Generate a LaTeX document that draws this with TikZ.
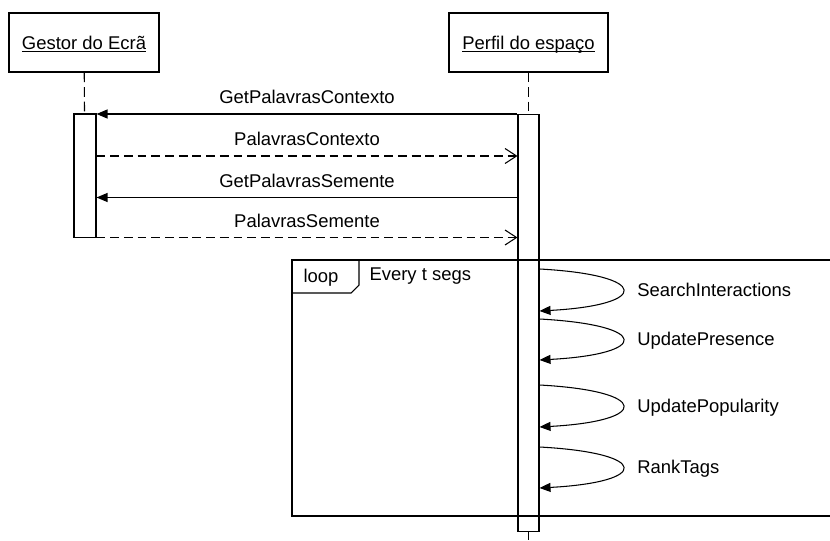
\documentclass[tikz,border=0pt]{standalone}
\usepackage{fontspec}
\setmainfont{Liberation Sans}
\usetikzlibrary{arrows.meta,calc}
\newcommand{\undertext}[1]{\setbox0\hbox{#1}\rlap{\rule[-1.6pt]{\wd0}{0.55pt}}\box0}
\tikzset{
  every node/.style={font=\fontsize{10.5}{12.6}\selectfont},
  actor/.style={draw, fill=white, minimum height=1.18cm, inner sep=0pt, text height=10pt, text depth=2.5pt},
  activation/.style={draw, fill=white, inner sep=0pt},
  lifeline/.style={dash pattern=on 5.5pt off 2.8pt},
  sync/.style={-{Triangle[length=2.2mm,width=1.8mm]}},
  reply/.style={dash pattern=on 5pt off 2.8pt, -{Straight Barb[length=2.3mm,width=3mm]}},
  msglabel/.style={midway, anchor=base, inner sep=0pt, yshift=0.2cm},
  selflabel/.style={pos=0.5, anchor=base west, inner sep=0pt, xshift=0.28cm, yshift=-0.12cm},
}
\begin{document}
\begin{tikzpicture}[x=0.02cm, y=-0.02cm, line width=0.6pt]
    \useasboundingbox (0,0) rectangle (830,540);
    \node[actor, minimum width=3cm] (gestor) at (84,42.5) {\undertext{Gestor do Ecrã}};
    \node[actor, minimum width=3.18cm] (perfil) at (528.5,42.5) {\undertext{Perfil do espaço}};
    \node[activation, minimum width=0.44cm, minimum height=2.47cm] (actG) at (85,175.75) {};
    \node[activation, minimum width=0.42cm, minimum height=8.36cm] (actP) at (528.5,323) {};
    \coordinate (lifeEnd) at (528.5,540);
    \draw[lifeline] (gestor) -- (actG);
    \draw[lifeline] (perfil) -- (actP);
    \draw[lifeline] (actP) -- (lifeEnd);
    \coordinate (m1) at (0,114);
    \coordinate (m2) at (0,156);
    \coordinate (m3) at (0,197.5);
    \coordinate (m4) at (0,237.5);
    \draw[sync] (actP.west |- m1) -- node[msglabel] (lblGetCtx) {GetPalavrasContexto} (actG.east |- m1);
    \draw[reply] (actG.east |- m2) -- node[msglabel] (lblCtx) {PalavrasContexto} (actP.west |- m2);
    \draw[sync] (actP.west |- m3) -- node[msglabel] (lblGetSem) {GetPalavrasSemente} (actG.east |- m3);
    \draw[reply] (actG.east |- m4) -- node[msglabel] (lblSem) {PalavrasSemente} (actP.west |- m4);
    \draw (830,260) -- (292,260) -- (292,516) -- (830,516);
    \draw (292,293) -- (351,293) -- (359,285) -- (359,260);
    \node[anchor=base west, inner sep=0pt] (loopTag) at (303,282) {loop};
    \node[anchor=base west, inner sep=0pt] (loopGuard) at (369,280) {Every t segs};
    \coordinate (s1) at (0,269);  \coordinate (s1e) at (0,311);
    \coordinate (s2) at (0,319);  \coordinate (s2e) at (0,360);
    \coordinate (s3) at (0,385);  \coordinate (s3e) at (0,427);
    \coordinate (s4) at (0,447);  \coordinate (s4e) at (0,488);
    \draw[sync] (actP.east |- s1) .. controls ($(actP.east |- s1)+(111,6)$) and ($(actP.east |- s1e)+(111,-6)$) .. (actP.east |- s1e) node[selflabel] (lblSearch) {SearchInteractions};
    \draw[sync] (actP.east |- s2) .. controls ($(actP.east |- s2)+(111,6)$) and ($(actP.east |- s2e)+(111,-6)$) .. (actP.east |- s2e) node[selflabel] (lblPresence) {UpdatePresence};
    \draw[sync] (actP.east |- s3) .. controls ($(actP.east |- s3)+(111,6)$) and ($(actP.east |- s3e)+(111,-6)$) .. (actP.east |- s3e) node[selflabel] (lblPopularity) {UpdatePopularity};
    \draw[sync] (actP.east |- s4) .. controls ($(actP.east |- s4)+(111,6)$) and ($(actP.east |- s4e)+(111,-6)$) .. (actP.east |- s4e) node[selflabel] (lblRank) {RankTags};
\end{tikzpicture}
\end{document}
